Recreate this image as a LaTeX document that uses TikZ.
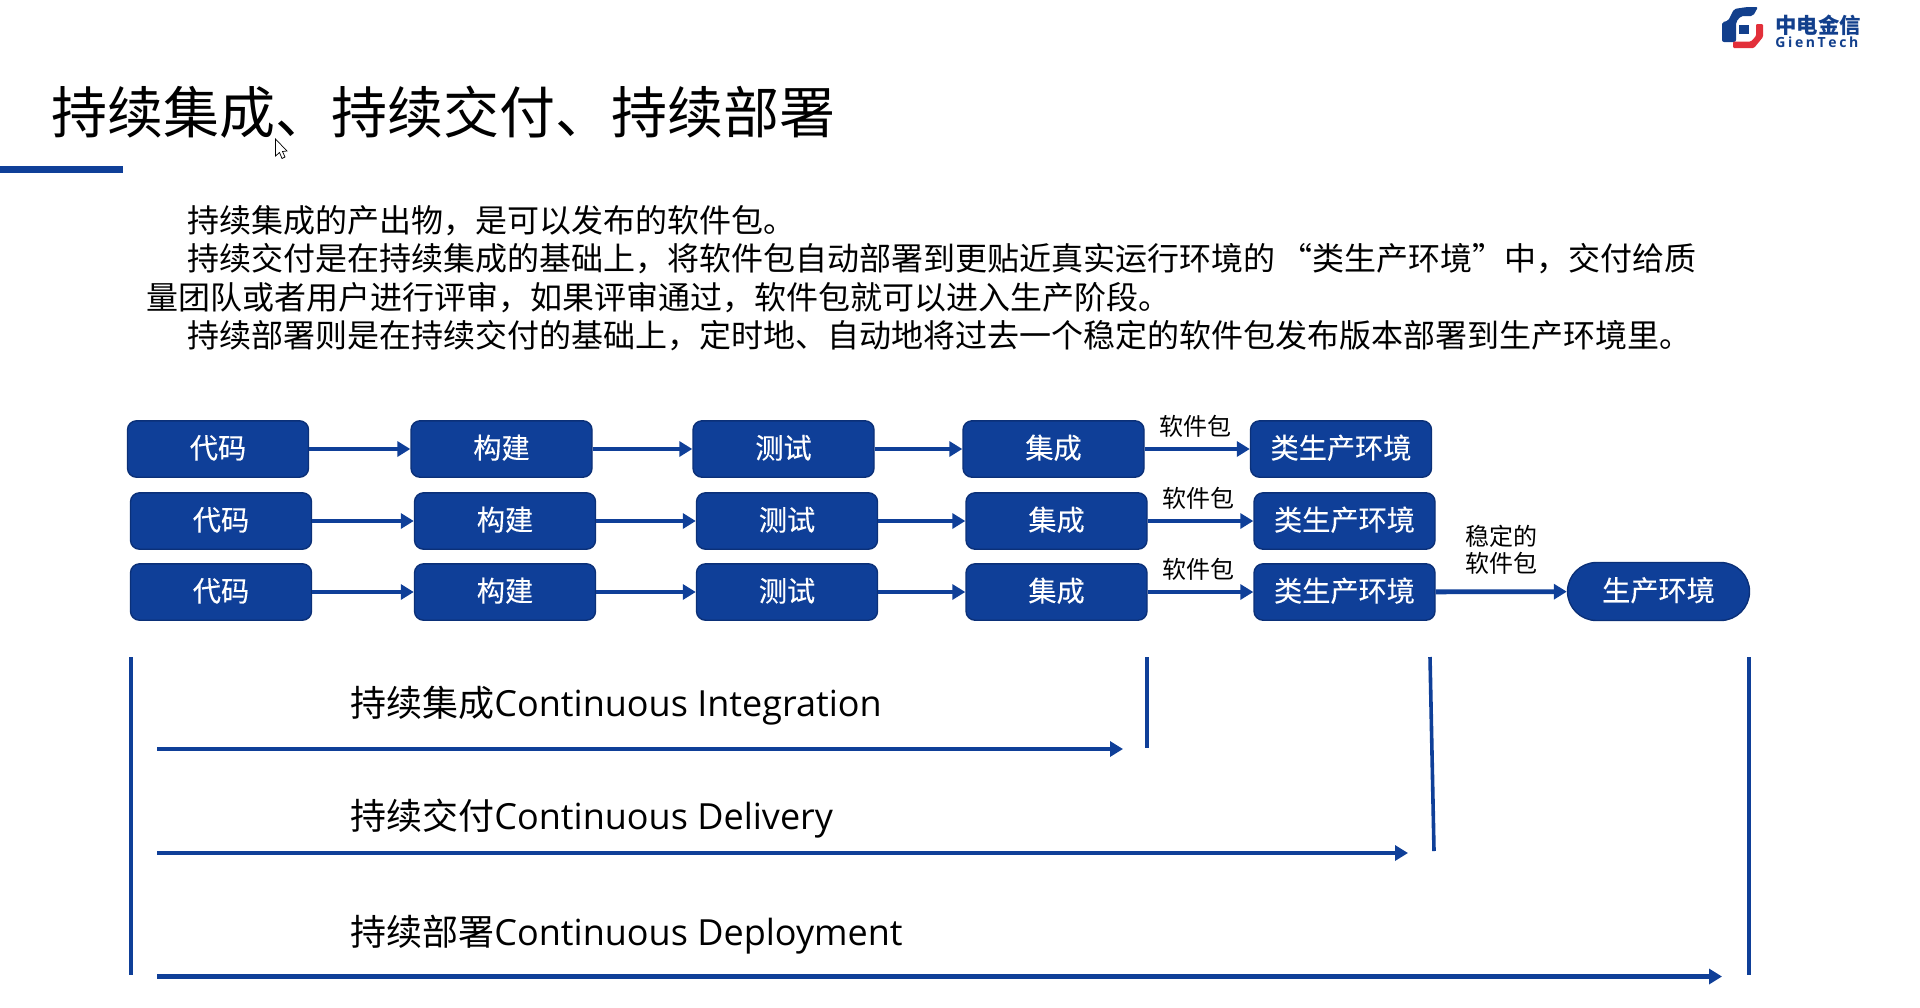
\documentclass[tikz,border=0pt]{standalone}
\usepackage{fontspec}
\setmainfont{Noto Sans CJK SC}
\newfontfamily\latinlab{Open Sans}
\newfontfamily\boxfont[FakeBold=0.2]{Noto Sans CJK SC}
\usetikzlibrary{arrows.meta,shapes.misc}
\definecolor{brand}{HTML}{0F3F98}
\definecolor{branddark}{HTML}{0B3078}
\definecolor{logored}{HTML}{E2303A}
\definecolor{logoblue}{HTML}{123F8C}
\tikzset{
  x=0.5pt,y=-0.5pt,
  flowbox/.style={draw=branddark,line width=0.7pt,fill=brand,rounded corners=4.5pt,text=white,font=\boxfont\fontsize{14.1}{17}\selectfont,text height=12pt,text depth=2.6pt,minimum width=90.5pt,minimum height=28.2pt,inner sep=0pt},
  prodbox/.style={draw=branddark,line width=0.7pt,fill=brand,rounded rectangle,text=white,font=\boxfont\fontsize{14.1}{17}\selectfont,text height=12pt,text depth=2.6pt,minimum width=91pt,minimum height=29pt,inner sep=0pt},
  flow/.style={draw=brand,line width=2.4pt,-{Triangle[length=6.5pt,width=7.5pt]}},
  bound/.style={draw=brand,line width=1.8pt},
  pack/.style={font=\fontsize{12}{14}\selectfont,inner sep=0pt},
  para/.style={font=\fontsize{16}{19}\selectfont,anchor=west,inner sep=0pt},
  span/.style={font=\fontsize{18}{22}\selectfont,anchor=west,inner sep=0pt},
}
\newcommand{\lat}[1]{{\latinlab #1}}
\begin{document}
\begin{tikzpicture}
\useasboundingbox (0,0) rectangle (1920,1007);
% title
\node[font=\fontsize{28}{32}\selectfont,anchor=west,inner sep=0pt] (title) at (51.5,112) {持续集成、持续交付、持续部署};
\fill[brand] (0,166) rectangle (123,173);
% cursor
\draw[black,line width=0.35pt,fill=white] (275.5,139) -- (275.5,156) -- (279.5,152.5) -- (282,158.5) -- (285,157) -- (282.5,151.5) -- (287,151) -- cycle;
% paragraph
\node[para] (p1) at (187,220.5) {持续集成的产出物，是可以发布的软件包。};
\node[para] (p2) at (187,258.5) {持续交付是在持续集成的基础上，将软件包自动部署到更贴近真实运行环境的\hspace{2.5pt}“类生产环境”中，交付给质};
\node[para] (p3) at (146,297.5) {量团队或者用户进行评审，如果评审通过，软件包就可以进入生产阶段。};
\node[para] (p4) at (187,335.5) {持续部署则是在持续交付的基础上，定时地、自动地将过去一个稳定的软件包发布版本部署到生产环境里。};
% row 1
\node[flowbox] (a1) at (218,449) {代码};
\node[flowbox] (b1) at (501.5,449) {构建};
\node[flowbox] (c1) at (783.5,449) {测试};
\node[flowbox] (d1) at (1053.5,449) {集成};
\node[flowbox] (e1) at (1341,449) {类生产环境};
% row 2
\node[flowbox] (a2) at (221,521) {代码};
\node[flowbox] (b2) at (505,521) {构建};
\node[flowbox] (c2) at (787,521) {测试};
\node[flowbox] (d2) at (1056.5,521) {集成};
\node[flowbox] (e2) at (1344.5,521) {类生产环境};
% row 3
\node[flowbox] (a3) at (221,592) {代码};
\node[flowbox] (b3) at (505,592) {构建};
\node[flowbox] (c3) at (787,592) {测试};
\node[flowbox] (d3) at (1056.5,592) {集成};
\node[flowbox] (e3) at (1344.5,592) {类生产环境};
\node[prodbox] (f3) at (1658.5,591.5) {生产环境};
\foreach \r in {1,2,3}{
  \draw[flow] (a\r) -- (b\r);
  \draw[flow] (b\r) -- (c\r);
  \draw[flow] (c\r) -- (d\r);
  \draw[flow] (d\r) -- (e\r);
}
\draw[flow] (e3) -- (f3);
\node[pack] (s1) at (1195,426) {软件包};
\node[pack] (s2) at (1198.5,498) {软件包};
\node[pack] (s3) at (1198.5,569) {软件包};
\node[pack] (s4) at (1501,536) {稳定的};
\node[pack] (s5) at (1501,563) {软件包};
% spans
\coordinate (v1t) at (131,657); \coordinate (v1b) at (131,975);
\coordinate (v2t) at (1147,657); \coordinate (v2b) at (1147,748);
\coordinate (v3t) at (1430,657); \coordinate (v3b) at (1434,851);
\coordinate (v4t) at (1749,657); \coordinate (v4b) at (1749,975);
\draw[bound] (v1t) -- (v1b);
\draw[bound] (v2t) -- (v2b);
\draw[bound] (v3t) -- (v3b);
\draw[bound] (v4t) -- (v4b);
\coordinate (h1a) at (157,749); \coordinate (h1b) at (1123,749);
\coordinate (h2a) at (157,853); \coordinate (h2b) at (1408,853);
\coordinate (h3a) at (157,976.5); \coordinate (h3b) at (1722,976.5);
\draw[flow] (h1a) -- (h1b);
\draw[flow] (h2a) -- (h2b);
\draw[flow] (h3a) -- (h3b);
\node[span] (l1) at (350,706) {持续集成\lat{Continuous Integration}};
\node[span] (l2) at (350,819) {持续交付\lat{Continuous Delivery}};
\node[span] (l3) at (350,935) {持续部署\lat{Continuous Deployment}};
% logo
\fill[logoblue,rounded corners=1pt] (1747,7) -- (1758,7) -- (1753,16) -- (1741,16) -- (1736,22) -- (1736,42) -- (1722,42) -- (1722,22) -- (1728,21) -- (1734,9) -- cycle;
\fill[logoblue] (1739,25) rectangle (1749,34);
\fill[logored,rounded corners=0.6pt] (1756,24) -- (1763,24) -- (1763,37) -- (1754,48) -- (1733,48) -- (1733,41.5) -- (1751,41.5) -- (1756,36) -- cycle;
\node[font=\fontsize{10.7}{12}\bfseries\selectfont,text=logoblue,anchor=west,inner sep=0pt] (logocn) at (1775,25) {中电金信};
\node[font=\latinlab\fontsize{7}{8}\bfseries\selectfont,text=logoblue,anchor=west,inner sep=0pt] (logoen) at (1775,42.5) {G\kern1.3pt i\kern1.3pt e\kern1.3pt n\kern1.3pt T\kern1.3pt e\kern1.3pt c\kern1.3pt h};
\end{tikzpicture}
\end{document}
